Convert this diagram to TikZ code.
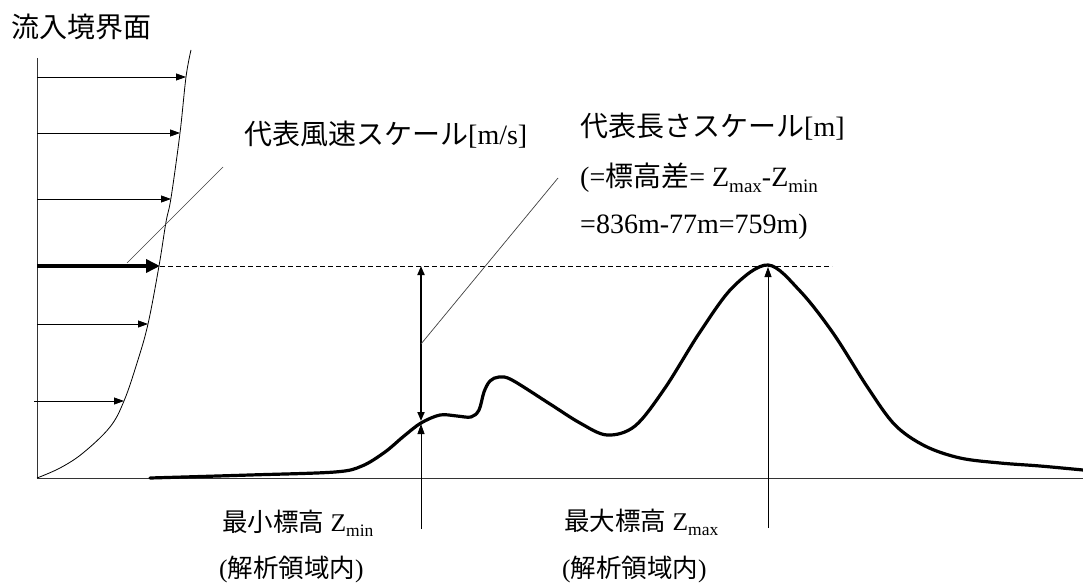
\documentclass[tikz,border=0pt]{standalone}
\usepackage{fontspec}
\setmainfont{Liberation Serif}
\newfontfamily\cjk{Noto Sans CJK JP}
\usetikzlibrary{arrows.meta}
\newcommand\zsub[1]{\raisebox{-0.2em}{\fontsize{19}{19}\selectfont #1}}
\newcommand\zsubb[1]{\raisebox{-0.2em}{\fontsize{17.5}{17.5}\selectfont #1}}
\tikzset{
  toplabel/.style={anchor=west,inner sep=0pt,font=\fontsize{28}{32}\selectfont},
  botlabel/.style={anchor=west,inner sep=0pt,font=\fontsize{25.5}{29}\selectfont},
  axisline/.style={line width=0.9pt,draw=black!80},
  vel/.style={line width=0.8pt,-{Triangle[length=10pt,width=7pt]}},
  velmain/.style={line width=4pt,-{Triangle[length=14pt,width=13pt]}},
  leader/.style={line width=0.7pt,draw=black!75},
  terrain/.style={line width=3.2pt,line join=round,line cap=round},
  span/.style={line width=1.8pt,{Triangle[length=9pt,width=7pt]}-{Triangle[length=9pt,width=7pt]}},
  pointer/.style={line width=0.8pt,-{Triangle[length=10pt,width=7pt]}},
  guide/.style={line width=0.8pt,dash pattern=on 5pt off 3pt}
}
\begin{document}
\begin{tikzpicture}[x=1pt,y=-1pt]
\useasboundingbox (0,0) rectangle (1083,585);
% axes
\coordinate (o) at (37,478);
\coordinate (atop) at (37,58);
\coordinate (gend) at (1083,478);
\draw[axisline] (atop) -- (o);
\draw[axisline] (o) -- (gend);
% profile
\draw[line width=0.8pt] plot[smooth,tension=0.6] coordinates {(37,478) (60,468) (83,453) (110,427) (124,401) (137,363) (148,324) (159,266) (166,222) (171,198) (180,133) (186,77) (191,50)};
% velocity arrows
\coordinate (s1) at (37,77);  \coordinate (e1) at (186,77);
\coordinate (s2) at (37,133); \coordinate (e2) at (180,133);
\coordinate (s3) at (37,199); \coordinate (e3) at (171,199);
\coordinate (s4) at (37,266); \coordinate (e4) at (160,266);
\coordinate (s5) at (37,324); \coordinate (e5) at (148,324);
\coordinate (s6) at (34,401); \coordinate (e6) at (124,401);
\draw[vel] (s1) -- (e1);
\draw[vel] (s2) -- (e2);
\draw[vel] (s3) -- (e3);
\draw[velmain] (s4) -- (e4);
\draw[vel] (s5) -- (e5);
\draw[vel] (s6) -- (e6);
% dashed reference line
\coordinate (dend) at (832,266);
\draw[guide] (e4) -- (dend);
% terrain
\draw[terrain] plot[smooth,tension=0.55] coordinates {(150,478) (250,475) (335,472) (362,466) (385,452) (404,436) (421,423) (440,415) (457,416) (471,417) (479,410) (484,392) (490,381) (499,377) (512,380) (550,404) (580,423) (607,435) (635,426) (665,388) (700,332) (733,287) (768,265) (800,291) (833,333) (868,388) (895,425) (925,446) (960,458) (1000,463) (1040,466) (1083,470)};
% scale span
\coordinate (spt) at (421,266);
\coordinate (spb) at (421,421);
\draw[span] (spt) -- (spb);
% min / max pointers
\coordinate (minb) at (421,529);
\coordinate (mint) at (421,424);
\draw[pointer] (minb) -- (mint);
\coordinate (maxb) at (768,528);
\coordinate (maxt) at (768,267);
\draw[pointer] (maxb) -- (maxt);
% leaders
\coordinate (l1a) at (127,263); \coordinate (l1b) at (223,167);
\coordinate (l2a) at (421,344); \coordinate (l2b) at (558,178);
\draw[leader] (l1a) -- (l1b);
\draw[leader] (l2a) -- (l2b);
% labels
\node[toplabel] (title) at (11,27) {\cjk 流入境界面};
\node[toplabel] (vlab) at (244,135) {{\cjk 代表風速スケール}[m/s]};
\node[toplabel] (llab1) at (580,127) {{\cjk 代表長さスケール}[m]};
\node[toplabel] (llab2) at (580,178) {(={\cjk 標高差}= Z\zsub{max}-Z\zsub{min}};
\node[toplabel] (llab3) at (580,227) {=836m-77m=759m)};
\node[botlabel] (minlab) at (222,523) {{\cjk 最小標高} Z\zsubb{min}};
\node[botlabel] (minlab2) at (219,569) {({\cjk 解析領域内})};
\node[botlabel] (maxlab) at (564,522) {{\cjk 最大標高} Z\zsubb{max}};
\node[botlabel] (maxlab2) at (562,569) {({\cjk 解析領域内})};
\end{tikzpicture}
\end{document}
